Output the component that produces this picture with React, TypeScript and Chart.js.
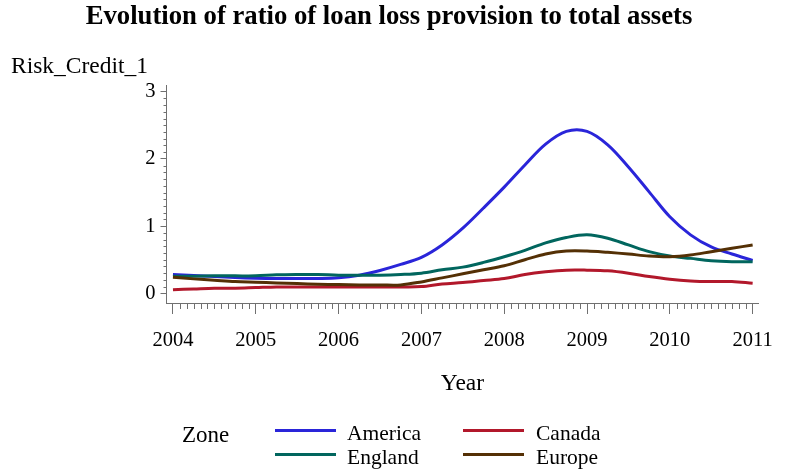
import Chart from "chart.js/auto";
import { useEffect, useRef } from "react";

const TITLE = "Evolution of ratio of loan loss provision to total assets";
const Y_TITLE = "Risk_Credit_1";
const X_TITLE = "Year";
const LEGEND_TITLE = "Zone";

const quarters = [
	2004, 2004.25, 2004.5, 2004.75, 2005, 2005.25, 2005.5, 2005.75, 2006, 2006.25, 2006.5, 2006.75, 2007, 2007.25,
	2007.5, 2007.75, 2008, 2008.25, 2008.5, 2008.75, 2009, 2009.25, 2009.5, 2009.75, 2010, 2010.25, 2010.5, 2010.75,
	2011,
];
const yearTicks = [2004, 2005, 2006, 2007, 2008, 2009, 2010, 2011];
const valueTicks = [0, 1, 2, 3];

const zones = ["America", "Canada", "England", "Europe"];
const zoneColors = ["#2A25D9", "#B2182B", "#01665E", "#543005"];

const america = [
	0.28, 0.265, 0.25, 0.235, 0.225, 0.22, 0.22, 0.22, 0.23, 0.27, 0.34, 0.43, 0.535, 0.72, 0.97, 1.27, 1.58, 1.91,
	2.22, 2.41, 2.41, 2.21, 1.88, 1.51, 1.14, 0.87, 0.69, 0.585, 0.49,
];
const canada = [
	0.055, 0.065, 0.075, 0.075, 0.085, 0.095, 0.095, 0.095, 0.095, 0.095, 0.095, 0.095, 0.1, 0.14, 0.16, 0.19, 0.22,
	0.28, 0.32, 0.345, 0.345, 0.335, 0.3, 0.25, 0.21, 0.185, 0.175, 0.175, 0.15,
];
const england = [
	0.255, 0.255, 0.26, 0.26, 0.26, 0.275, 0.28, 0.28, 0.27, 0.27, 0.27, 0.28, 0.3, 0.35, 0.39, 0.46, 0.545, 0.64, 0.75,
	0.83, 0.87, 0.82, 0.72, 0.62, 0.555, 0.52, 0.485, 0.47, 0.47,
];
const europe = [
	0.24, 0.215, 0.195, 0.175, 0.165, 0.155, 0.145, 0.135, 0.13, 0.125, 0.125, 0.125, 0.17, 0.23, 0.29, 0.35, 0.41, 0.5,
	0.585, 0.63, 0.63, 0.61, 0.585, 0.555, 0.545, 0.57, 0.62, 0.67, 0.72,
];
const zoneValues = [america, canada, england, europe];

const FONT = "'Liberation Serif', 'Times New Roman', serif";
const AXIS_COLOR = "#707070";

// SAS-style title, minor ticks, horizontal y label and the two-column legend
const decorations = {
	id: "decorations",
	afterDraw(chart: Chart) {
		const { ctx, chartArea, scales } = chart;
		const x = scales.x;
		const y = scales.y;
		ctx.save();
		ctx.strokeStyle = AXIS_COLOR;
		ctx.lineWidth = 1;
		ctx.beginPath();
		for (let yr = 2004; yr < 2011; yr++) {
			for (let m = 1; m < 12; m++) {
				const px = Math.round(x.getPixelForValue(yr + m / 12)) + 0.5;
				ctx.moveTo(px, chartArea.bottom);
				ctx.lineTo(px, chartArea.bottom + 6);
			}
		}
		for (let k = 1; k < 30; k++) {
			if (k % 10 === 0) continue;
			const py = Math.round(y.getPixelForValue(k / 10)) + 0.5;
			ctx.moveTo(chartArea.left, py);
			ctx.lineTo(chartArea.left - 3, py);
		}
		ctx.stroke();

		ctx.fillStyle = "#000";
		ctx.font = `bold 26.7px ${FONT}`;
		ctx.textAlign = "center";
		ctx.textBaseline = "middle";
		ctx.fillText(TITLE, 389, 17.5);

		ctx.font = `23.5px ${FONT}`;
		ctx.textBaseline = "alphabetic";
		ctx.textAlign = "left";
		ctx.fillText(Y_TITLE, 11, 73);

		ctx.font = `23px ${FONT}`;
		ctx.fillText(LEGEND_TITLE, 182, 441.5);
		ctx.font = `21.5px ${FONT}`;
		const colLine = [275, 463];
		const colText = [347, 536];
		const rowLine = [430.5, 454.5];
		const rowText = [440, 464];
		chart.data.datasets.forEach((ds, i) => {
			const c = i % 2;
			const r = Math.floor(i / 2);
			ctx.strokeStyle = ds.borderColor as string;
			ctx.lineWidth = 3;
			ctx.beginPath();
			ctx.moveTo(colLine[c], rowLine[r]);
			ctx.lineTo(colLine[c] + 61, rowLine[r]);
			ctx.stroke();
			ctx.fillStyle = "#000";
			ctx.fillText(ds.label as string, colText[c], rowText[r]);
		});
		ctx.restore();
	},
};

export default function App() {
	const ref = useRef<HTMLCanvasElement>(null);

	useEffect(() => {
		document.body.style.margin = "0";
		const canvas = ref.current;
		if (!canvas) {
			return;
		}

		const chart = new Chart(canvas, {
			type: "line",
			data: {
				datasets: zones.map((name, i) => ({
					label: name,
					data: quarters.map((q, j) => ({ x: q, y: zoneValues[i][j] })),
					borderColor: zoneColors[i],
					backgroundColor: zoneColors[i],
					borderWidth: 3,
					pointRadius: 0,
					tension: 0.35,
					order: zones.length - i,
				})),
			},
			options: {
				animation: false,
				responsive: true,
				maintainAspectRatio: false,
				layout: {
					padding: { left: 0, right: 24.5, top: 85, bottom: 73 },
				},
				plugins: {
					legend: { display: false },
					tooltip: { enabled: false },
					title: { display: false },
				},
				scales: {
					x: {
						type: "linear",
						min: 2003.922,
						max: 2011.07,
						afterBuildTicks: (scale) => {
							scale.ticks = yearTicks.map((v) => ({ value: v }));
						},
						afterFit: (scale) => {
							scale.height = 100;
						},
						ticks: {
							color: "#000",
							font: { family: FONT, size: 20.5 },
							padding: 14,
							maxRotation: 0,
							callback: (v) => String(v),
						},
						grid: {
							drawOnChartArea: false,
							tickLength: 11,
							tickColor: AXIS_COLOR,
						},
						border: { color: AXIS_COLOR, width: 1 },
						title: {
							display: true,
							text: X_TITLE,
							color: "#000",
							font: { family: FONT, size: 23.5 },
							padding: { top: 0, bottom: 5 },
						},
					},
					y: {
						type: "linear",
						min: -0.144,
						max: 3.1,
						afterBuildTicks: (scale) => {
							scale.ticks = valueTicks.map((v) => ({ value: v }));
						},
						afterFit: (scale) => {
							scale.width = 166.5;
						},
						ticks: {
							color: "#000",
							font: { family: FONT, size: 20.5 },
							padding: 5,
						},
						grid: {
							drawOnChartArea: false,
							tickLength: 6,
							tickColor: AXIS_COLOR,
						},
						border: { color: AXIS_COLOR, width: 1 },
					},
				},
			},
			plugins: [decorations],
		});

		return () => {
			chart.destroy();
		};
	}, []);

	return (
		<div style={{ position: "relative", width: 787, height: 476 }}>
			<canvas ref={ref} />
		</div>
	);
}
